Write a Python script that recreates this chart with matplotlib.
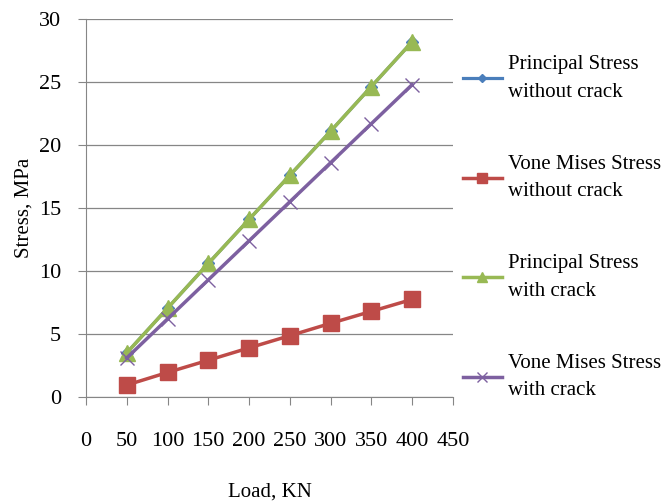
import matplotlib
matplotlib.use("Agg")
import matplotlib.pyplot as plt

load = [50, 100, 150, 200, 250, 300, 350, 400]
principal_no_crack = [3.5, 7.05, 10.6, 14.1, 17.6, 21.1, 24.65, 28.2]
vm_no_crack = [0.95, 1.95, 2.92, 3.9, 4.87, 5.85, 6.8, 7.75]
principal_crack = [3.5, 7.05, 10.6, 14.1, 17.6, 21.1, 24.65, 28.2]
vm_crack = [3.1, 6.2, 9.3, 12.4, 15.5, 18.6, 21.7, 24.8]

labels = ["Principal Stress\nwithout crack", "Vone Mises Stress\nwithout crack",
          "Principal Stress\nwith crack", "Vone Mises Stress\nwith crack"]

plt.rcParams["font.family"] = "Liberation Serif"

fig = plt.figure(figsize=(6.69, 5.03), dpi=100)
ax = fig.add_axes([0.1285, 0.2107, 0.677 - 0.1285, 0.962 - 0.2107])

ax.plot(load, principal_no_crack, color="#4a7ebb", marker="D", markersize=6, linewidth=2.3, label=labels[0])
ax.plot(load, vm_no_crack, color="#be4b48", marker="s", markersize=11, linewidth=2.5, label=labels[1])
ax.plot(load, principal_crack, color="#98b954", marker="^", markersize=11, linewidth=2.5, label=labels[2])
ax.plot(load, vm_crack, color="#7d60a0", marker="x", markersize=10, markeredgewidth=1, linewidth=2.5,
        label=labels[3])

ax.set_xlim(0, 450)
ax.set_ylim(0, 30)
ax.set_xticks(range(0, 451, 50))
ax.set_yticks(range(0, 31, 5))
ax.grid(axis="y", color="#868686", linewidth=0.9)
ax.set_axisbelow(True)
for s in ["top", "right"]:
    ax.spines[s].set_visible(False)
ax.spines["left"].set_color("#868686")
ax.spines["bottom"].set_color("#868686")
ax.tick_params(axis="x", length=6, color="#868686", pad=19, labelsize=16)
ax.tick_params(axis="y", length=6, color="#868686", pad=12, labelsize=16)
ax.set_xlabel("Load, KN", fontsize=15, labelpad=23)
ax.set_ylabel("Stress, MPa", fontsize=15, labelpad=4)

leg = ax.legend(loc="upper left", bbox_to_anchor=(1.015, 0.915), frameon=False, fontsize=15,
                handlelength=1.9, labelspacing=2.55, handletextpad=0.3, borderaxespad=0,
                borderpad=0.2, markerscale=0.7)
for t in leg.get_texts():
    t.set_linespacing(1.6)

fig.savefig("out.png", dpi=100)
